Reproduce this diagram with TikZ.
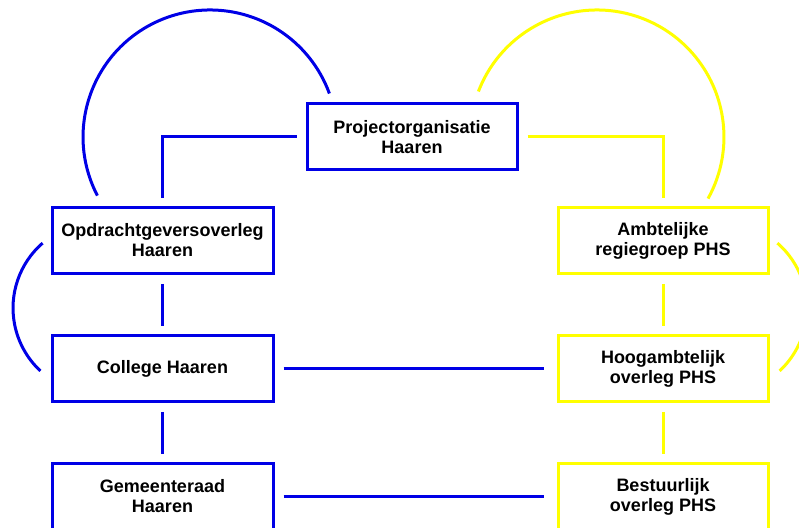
\documentclass[tikz,border=0pt]{standalone}
\usepackage{fontspec}
\setmainfont{Liberation Sans}
\usepackage{tikz}
\usetikzlibrary{positioning}
\definecolor{haarenblue}{RGB}{0,0,230}
\definecolor{phsyellow}{RGB}{255,255,0}

\begin{document}
\begin{tikzpicture}[x=1pt, y=1pt, node distance={128pt},
        main/.style = {draw, rectangle, line width=3pt, minimum height=66pt, align=center, font=\fontsize{18}{20}\selectfont\bfseries},
        haaren/.style = {main, draw=haarenblue, minimum width=221pt},
        phs/.style = {main, draw=phsyellow, minimum width=210pt},
        link/.style = {line width=3pt, shorten <=9pt, shorten >=8pt}]
            \useasboundingbox (0,0) rectangle (799,527);

            \node[main, draw=haarenblue, minimum width=210pt] (proj) at (412,390) {Projectorganisatie\\Haaren};

            \node[haaren] (opdr) at (162.5,286.5) {Opdrachtgeversoverleg\\Haaren};
            \node[haaren] (college) [below of=opdr] {College Haaren};
            \node[haaren] (raad) [below of=college] {Gemeenteraad\\Haaren};

            \node[phs] (ambt) [node distance=500.5pt, right of=opdr] {Ambtelijke\\regiegroep PHS};
            \node[phs] (hoog) [below of=ambt] {Hoogambtelijk\\overleg PHS};
            \node[phs] (best) [below of=hoog] {Bestuurlijk\\overleg PHS};

            \draw[link, haarenblue] (proj.west) -| (opdr.north);
            \draw[link, phsyellow] (proj.east) -| (ambt.north);

            \draw[link, haarenblue] (opdr) -- (college);
            \draw[link, haarenblue] (college) -- (raad);
            \draw[link, phsyellow] (ambt) -- (hoog);
            \draw[link, phsyellow] (hoog) -- (best);

            \draw[link, haarenblue, shorten >=13pt] (college) -- (hoog);
            \draw[link, haarenblue, shorten >=13pt] (raad) -- (best);

            % overleg-cirkels
            \coordinate (blueArc) at (97.4,331.4);
            \coordinate (yellowArc) at (478.4,435.5);
            \coordinate (leftArc) at (42.6,283.9);
            \coordinate (rightArc) at (777.4,283.9);

            \draw[haarenblue, line width=3pt] (blueArc) arc[start angle=207.5, end angle=20, radius=127pt];
            \draw[phsyellow, line width=3pt] (yellowArc) arc[start angle=159, end angle=-29, radius=127pt];
            \draw[haarenblue, line width=3pt] (leftArc) arc[start angle=131, end angle=227, radius=86pt];
            \draw[phsyellow, line width=3pt] (rightArc) arc[start angle=49, end angle=-47, radius=86pt];
        \end{tikzpicture}
\end{document}
